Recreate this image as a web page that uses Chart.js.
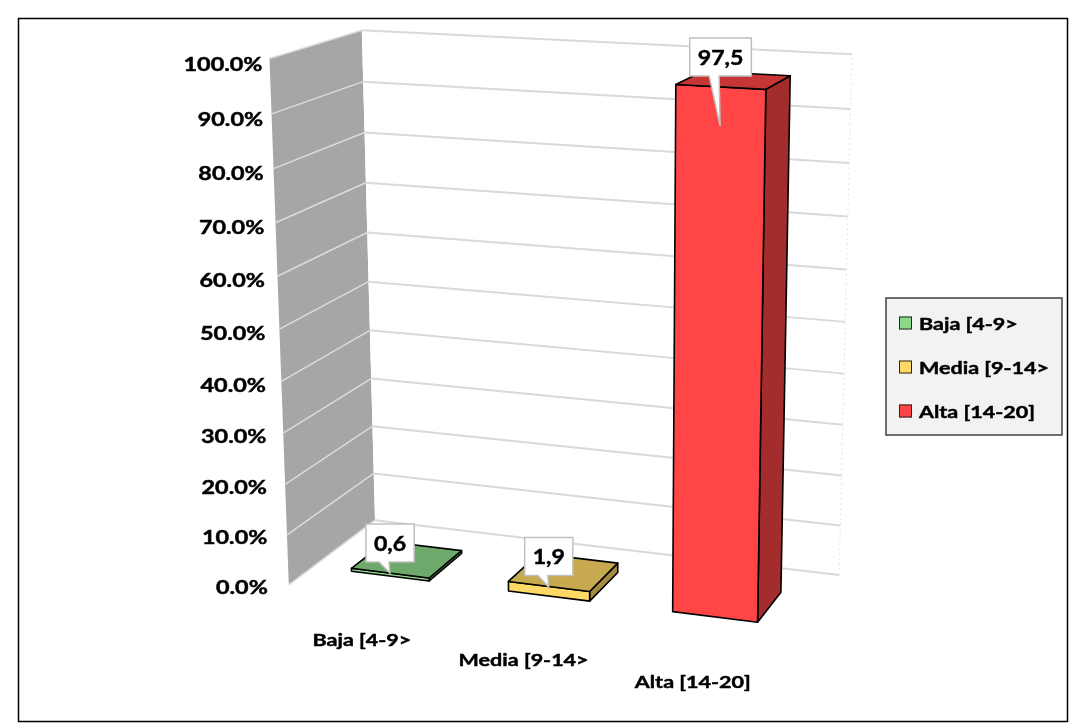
<!DOCTYPE html>
<html lang="es">
<head>
<meta charset="utf-8">
<title>Nivel de logro</title>
<script src="https://cdn.jsdelivr.net/npm/chart.js@4.4.1/dist/chart.umd.min.js"></script>
<style>
    html, body { margin: 0; padding: 0; background: #ffffff; }
    canvas { display: block; }
</style>
</head>
<body>
<canvas id="chart" width="1069" height="723"></canvas>
<script>
const categories = ['Baja [4-9>', 'Media [9-14>', 'Alta [14-20]'];
const percentages = [0.6, 1.9, 97.5];
const barColors = ['#8DD98A', '#FFD966', '#FF4545'];
const yMax = 100;
const yStep = 10;

const FONT = 'Lato, "Open Sans", "DejaVu Sans", sans-serif';
const TEXT_STRETCH = 1.23;   // wide bold lettering

// Size of the 3D box (back wall is 100 units wide)
const WALL_W = 100;
const WALL_H = 103;
const WALL_D = 40.2;
// Bar depth, as a fraction of the box depth
const BAR_FRONT = 0.27;
const BAR_BACK = 0.68;

// Perspective camera
const camera = {
    yaw: 19 * Math.PI / 180,
    pitch: 14.7 * Math.PI / 180,
    focal: 2429,
    cx: 619,
    cy: 325,
    offset: [-64.3, -50.6, 473],
};

function project(x, y, z) {
    const cb = Math.cos(camera.yaw), sb = Math.sin(camera.yaw);
    const ca = Math.cos(camera.pitch), sa = Math.sin(camera.pitch);
    const x1 = x * cb + z * sb;
    const z1 = -x * sb + z * cb;
    const y2 = y * ca + z1 * sa;
    const z2 = -y * sa + z1 * ca;
    const px = x1 + camera.offset[0];
    const py = y2 + camera.offset[1];
    const pz = z2 + camera.offset[2];
    return {
        x: camera.cx + camera.focal * px / pz,
        y: camera.cy - camera.focal * py / pz,
    };
}

// chart pixels (from the Chart.js scales) -> box units
function worldX(chart, px) {
    const a = chart.chartArea;
    return (px - a.left) / a.width * WALL_W;
}
function worldY(chart, py) {
    const a = chart.chartArea;
    return (a.bottom - py) / a.height * WALL_H;
}

function shade(hex, f) {
    const n = parseInt(hex.slice(1), 16);
    const r = Math.round(((n >> 16) & 255) * f);
    const g = Math.round(((n >> 8) & 255) * f);
    const b = Math.round((n & 255) * f);
    return `rgb(${r},${g},${b})`;
}

function polygon(ctx, pts, fill, stroke, lw) {
    ctx.beginPath();
    pts.forEach((p, i) => i ? ctx.lineTo(p.x, p.y) : ctx.moveTo(p.x, p.y));
    ctx.closePath();
    if (fill) {
        ctx.fillStyle = fill;
        ctx.fill();
    }
    if (stroke) {
        ctx.strokeStyle = stroke;
        ctx.lineWidth = lw || 1;
        ctx.stroke();
    }
}

function line(ctx, a, b, color, lw) {
    ctx.beginPath();
    ctx.moveTo(a.x, a.y);
    ctx.lineTo(b.x, b.y);
    ctx.strokeStyle = color;
    ctx.lineWidth = lw;
    ctx.stroke();
}

// bold text, widened horizontally around its anchor
function wideText(ctx, text, x, y, align, size, stretch) {
    ctx.save();
    ctx.translate(x, y);
    ctx.scale(stretch, 1);
    ctx.font = `bold ${size}px ${FONT}`;
    ctx.textAlign = align;
    ctx.textBaseline = 'middle';
    ctx.fillStyle = '#000000';
    ctx.strokeStyle = '#000000';
    ctx.lineWidth = 0.45;
    ctx.fillText(text, 0, 0);
    ctx.strokeText(text, 0, 0);
    ctx.restore();
}

const framePlugin = {
    id: 'frame',
    beforeDraw(chart) {
        const ctx = chart.ctx;
        ctx.save();
        ctx.fillStyle = '#ffffff';
        ctx.fillRect(0, 0, chart.width, chart.height);
        ctx.strokeStyle = '#000000';
        ctx.lineWidth = 1.5;
        ctx.strokeRect(18.5, 18.5, chart.width - 20, chart.height - 20);
        ctx.restore();
    }
};

const scenePlugin = {
    id: 'scene3d',
    beforeDatasetsDraw(chart) {
        const ctx = chart.ctx;
        const yScale = chart.scales.y;
        const W = WALL_W, H = WALL_H, D = WALL_D;
        ctx.save();
        ctx.lineJoin = 'round';

        // side wall and back wall
        polygon(ctx, [project(0, 0, 0), project(0, H, 0), project(0, H, D), project(0, 0, D)], '#a6a6a6');
        polygon(ctx, [project(0, 0, D), project(0, H, D), project(W, H, D), project(W, 0, D)], '#ffffff');

        yScale.ticks.forEach(t => {
            const y = worldY(chart, yScale.getPixelForValue(t.value));
            line(ctx, project(0, y, 0), project(0, y, D), '#dcdcdc', 1.5);
            line(ctx, project(0, y, D), project(W, y, D), '#d9d9d9', 2);
        });

        ctx.setLineDash([2, 3]);
        line(ctx, project(W, 0, D), project(W, H, D), '#e6e6e6', 1);
        ctx.setLineDash([]);

        // 3D bars
        const meta = chart.getDatasetMeta(0);
        const z0 = BAR_FRONT * D, z1 = BAR_BACK * D;
        meta.data.forEach((el, i) => {
            const x0 = worldX(chart, el.x - el.width / 2);
            const x1 = worldX(chart, el.x + el.width / 2);
            const top = worldY(chart, el.y);
            const base = worldY(chart, el.base);
            const color = barColors[i];

            polygon(ctx, [project(x1, base, z0), project(x1, top, z0), project(x1, top, z1), project(x1, base, z1)],
                shade(color, 0.64), '#000000', 1.6);
            polygon(ctx, [project(x0, base, z0), project(x0, top, z0), project(x1, top, z0), project(x1, base, z0)],
                color, '#000000', 1.6);
            polygon(ctx, [project(x0, top, z0), project(x0, top, z1), project(x1, top, z1), project(x1, top, z0)],
                shade(color, 0.78), '#000000', 1.6);
        });

        ctx.restore();
        return false;
    }
};

const labelsPlugin = {
    id: 'labels3d',
    afterDraw(chart) {
        const ctx = chart.ctx;
        const xScale = chart.scales.x;
        const yScale = chart.scales.y;
        ctx.save();

        // value axis
        yScale.ticks.forEach(t => {
            const p = project(0, worldY(chart, yScale.getPixelForValue(t.value)), 0);
            const k = 1 - t.value / yMax;
            wideText(ctx, t.value.toFixed(1) + '%', p.x - 7 - 14 * k, p.y + 6 - 3 * k, 'right', 19, TEXT_STRETCH);
        });

        // category axis
        categories.forEach((c, i) => {
            const p = project(worldX(chart, xScale.getPixelForValue(i)), 0, 0);
            wideText(ctx, c, p.x - 5, p.y + 45, 'center', 17.5, TEXT_STRETCH);
        });

        // callout data labels
        const meta = chart.getDatasetMeta(0);
        const z0 = BAR_FRONT * WALL_D;
        const labelSize = 21, labelStretch = 1.1;
        ctx.font = `bold ${labelSize}px ${FONT}`;
        meta.data.forEach((el, i) => {
            const xc = worldX(chart, el.x);
            const top = worldY(chart, el.y);
            const anchor = project(xc, top, z0);
            const tip = project(xc, top * 0.93, z0);
            const text = percentages[i].toFixed(1).replace('.', ',');
            const w = ctx.measureText(text).width * labelStretch + 16;
            const h = 38;
            const cx = anchor.x, cy = anchor.y - 30;
            const l = cx - w / 2, r = cx + w / 2, t = cy - h / 2, b = cy + h / 2;
            const b0 = Math.max(l + 4, tip.x - 11), b1 = Math.min(r - 4, tip.x - 1);

            ctx.beginPath();
            ctx.moveTo(l, t);
            ctx.lineTo(r, t);
            ctx.lineTo(r, b);
            ctx.lineTo(b1, b);
            ctx.lineTo(tip.x, tip.y);
            ctx.lineTo(b0, b);
            ctx.lineTo(l, b);
            ctx.closePath();
            ctx.fillStyle = '#ffffff';
            ctx.fill();
            ctx.strokeStyle = '#bfbfbf';
            ctx.lineWidth = 1.5;
            ctx.stroke();

            wideText(ctx, text, cx, cy + 1, 'center', labelSize, labelStretch);
        });

        // legend
        const lx = 886, ly = 298, lw = 176, lh = 137;
        ctx.fillStyle = '#f2f2f2';
        ctx.fillRect(lx, ly, lw, lh);
        ctx.strokeStyle = '#404040';
        ctx.lineWidth = 1.5;
        ctx.strokeRect(lx, ly, lw, lh);
        categories.forEach((c, i) => {
            const y = ly + 25 + i * 44;
            ctx.fillStyle = barColors[i];
            ctx.fillRect(lx + 13, y - 6.5, 13, 13);
            ctx.strokeStyle = '#262626';
            ctx.lineWidth = 1;
            ctx.strokeRect(lx + 13.5, y - 6, 12, 12);
            wideText(ctx, c, lx + 33, y + 1, 'left', 17.5, TEXT_STRETCH);
        });

        ctx.restore();
    }
};

new Chart(document.getElementById('chart'), {
    type: 'bar',
    data: {
        labels: categories,
        datasets: [{
            data: percentages,
            backgroundColor: barColors,
            categoryPercentage: 1,
            barPercentage: 0.5,
        }],
    },
    options: {
        responsive: false,
        animation: false,
        events: [],
        layout: { padding: 0 },
        plugins: {
            legend: { display: false },
            tooltip: { enabled: false },
        },
        scales: {
            x: { display: false, offset: true },
            y: { display: false, min: 0, max: yMax, ticks: { stepSize: yStep } },
        },
    },
    plugins: [framePlugin, scenePlugin, labelsPlugin],
});
</script>
</body>
</html>
